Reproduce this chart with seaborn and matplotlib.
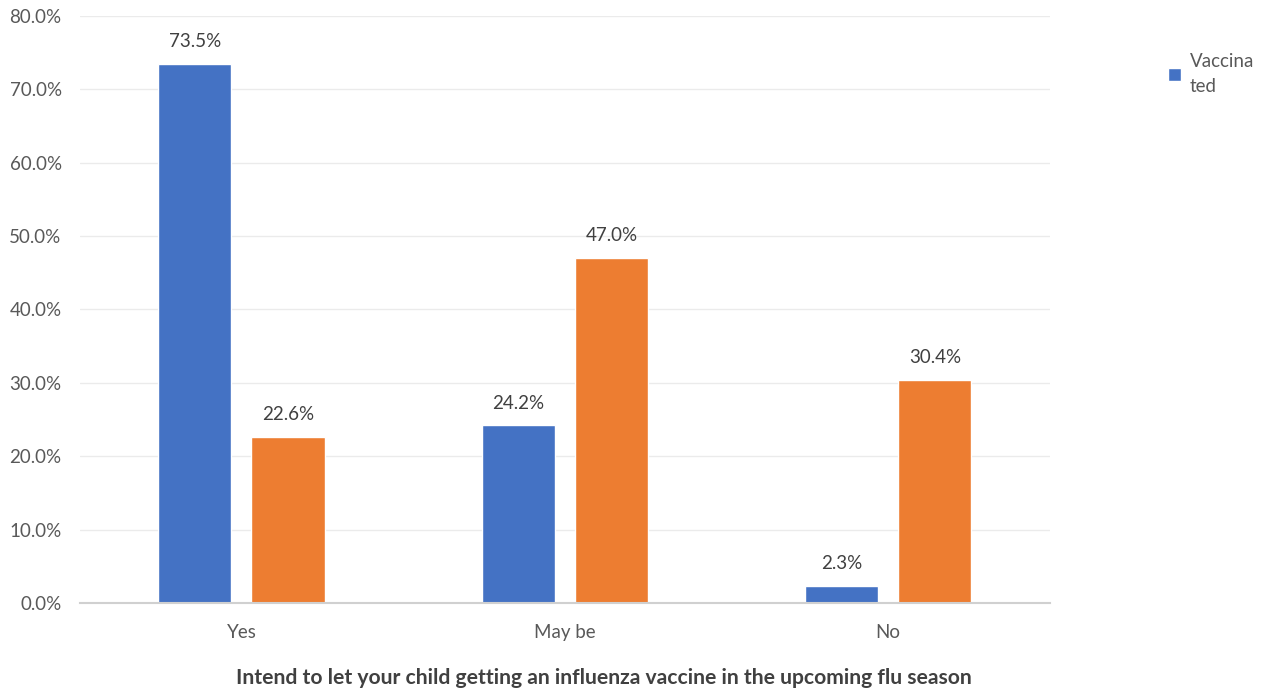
import matplotlib
matplotlib.use("Agg")
import matplotlib.pyplot as plt
import seaborn as sns
import pandas as pd
from matplotlib.patches import Patch
from matplotlib.ticker import FuncFormatter

categories = ["Yes", "May be", "No"]
series_names = ["Vaccinated", "Unvaccinated"]
vaccinated = [73.5, 24.2, 2.3]
unvaccinated = [22.6, 47.0, 30.4]
y_ticks = [0, 10, 20, 30, 40, 50, 60, 70, 80]
x_title = "Intend to let your child getting an influenza vaccine in the upcoming flu season"
colors = ["#4472C4", "#ED7D31"]

df = pd.DataFrame({
    "cat": categories * 2,
    "series": [series_names[0]] * 3 + [series_names[1]] * 3,
    "val": vaccinated + unvaccinated,
})

sns.set_theme(style="white")
plt.rcParams["font.family"] = ["Lato", "DejaVu Sans"]

fig = plt.figure(figsize=(12.65, 6.92), dpi=100)
ax = fig.add_axes([0.063, 0.1286, 0.767, 0.8484])

sns.barplot(data=df, x="cat", y="val", hue="series", order=categories,
            hue_order=series_names, palette=colors, width=0.576, gap=0.215,
            saturation=1, ax=ax, legend=False)

for cont in ax.containers:
    ax.bar_label(cont, labels=[f"{v:.1f}%" for v in cont.datavalues],
                 padding=10, fontsize=13.5, color="#404040")

ax.set_ylim(0, 80)
ax.set_xlim(-0.5, 2.5)
ax.set_yticks(y_ticks)
ax.yaxis.set_major_formatter(FuncFormatter(lambda v, p: f"{v:.1f}%"))
ax.grid(axis="y", color="#EBEBEB", linewidth=1)
ax.set_axisbelow(True)
for s in ["top", "right", "left"]:
    ax.spines[s].set_visible(False)
ax.spines["bottom"].set_color("#D0D0D0")
ax.spines["bottom"].set_linewidth(1.5)
ax.tick_params(axis="both", length=0, labelsize=13.5, labelcolor="#595959")
ax.tick_params(axis="x", pad=15)
ax.tick_params(axis="y", pad=13)
ax.set_ylabel("")
ax.set_xlabel(x_title, fontsize=15.2, fontweight="bold", color="#404040")
ax.xaxis.set_label_coords(0.540, -0.128)
ax.xaxis.label.set_va("center")

handles = [Patch(facecolor=colors[0], label="Vaccina\nted")]
leg = fig.legend(handles=handles, loc="upper left", bbox_to_anchor=(0.910, 0.948),
                 frameon=False, fontsize=13.5, labelcolor="#595959",
                 handlelength=0.7, handleheight=0.7, handletextpad=0.45)
for t in leg.get_texts():
    t.set_linespacing(1.6)

fig.savefig("out.png", dpi=100)
